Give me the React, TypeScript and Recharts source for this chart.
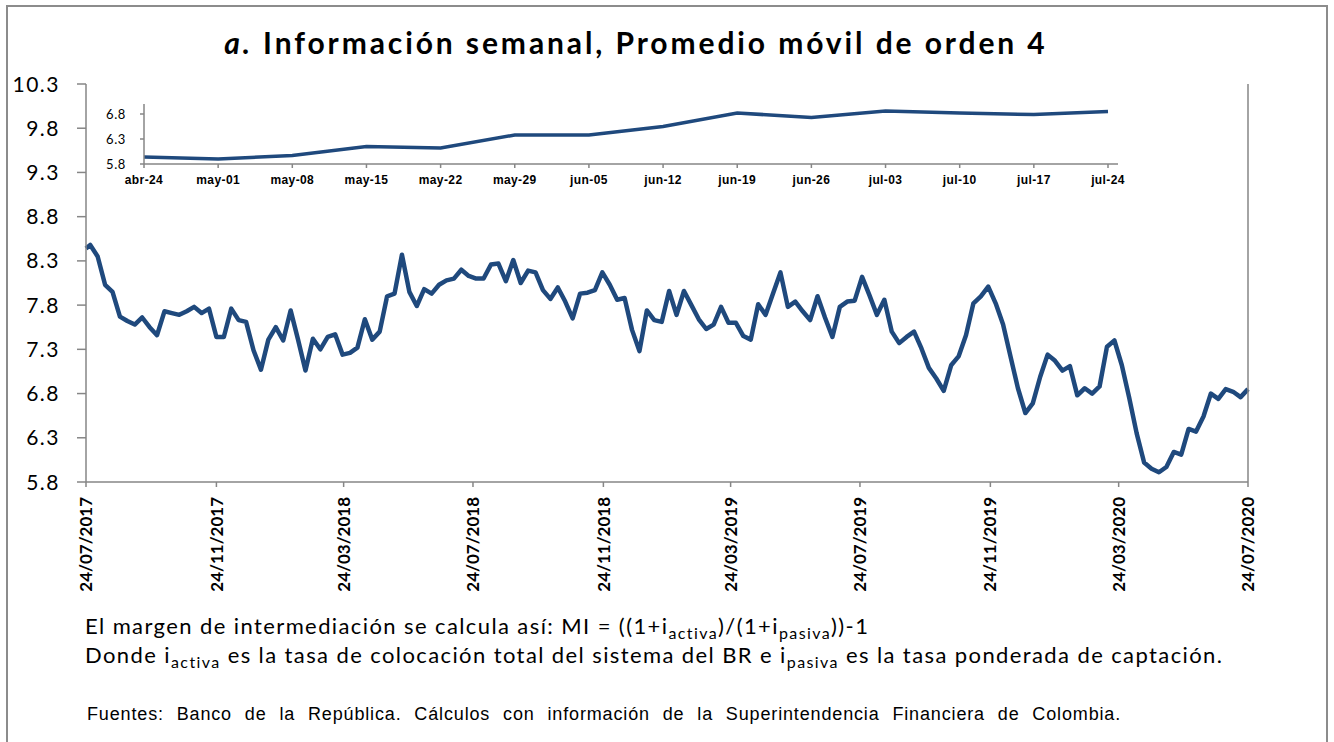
import React from 'react';
import { LineChart, Line, XAxis, YAxis } from 'recharts';

// weekly series, 4-week moving average (first obs 24/07/2017, then Fridays from 28/07/2017)
const MAIN_VALUES = [
  8.44, 8.48, 8.35, 8.03, 7.95, 7.67, 7.62, 7.58, 7.66, 7.55,
  7.46, 7.73, 7.71, 7.69, 7.73, 7.78, 7.71, 7.76, 7.44, 7.44,
  7.76, 7.63, 7.61, 7.29, 7.07, 7.41, 7.55, 7.40, 7.74, 7.41,
  7.06, 7.42, 7.30, 7.44, 7.47, 7.24, 7.26, 7.32, 7.64, 7.41,
  7.50, 7.90, 7.93, 8.37, 7.95, 7.79, 7.98, 7.93, 8.03, 8.08,
  8.10, 8.20, 8.13, 8.10, 8.10, 8.26, 8.27, 8.07, 8.31, 8.05,
  8.19, 8.17, 7.97, 7.87, 8.00, 7.84, 7.65, 7.93, 7.94, 7.97,
  8.17, 8.03, 7.86, 7.88, 7.52, 7.28, 7.74, 7.63, 7.61, 7.96,
  7.69, 7.96, 7.80, 7.64, 7.53, 7.58, 7.78, 7.60, 7.60, 7.45,
  7.41, 7.81, 7.69, 7.93, 8.17, 7.78, 7.84, 7.73, 7.63, 7.90,
  7.66, 7.44, 7.78, 7.84, 7.85, 8.12, 7.91, 7.69, 7.86, 7.50,
  7.37, 7.44, 7.50, 7.31, 7.09, 6.97, 6.83, 7.12, 7.22, 7.46,
  7.82, 7.90, 8.01, 7.82, 7.58, 7.22, 6.86, 6.58, 6.69, 6.99,
  7.24, 7.17, 7.06, 7.11, 6.78, 6.86, 6.80, 6.88, 7.33, 7.40,
  7.12, 6.75, 6.35, 6.02, 5.95, 5.91, 5.97, 6.14, 6.11, 6.40,
  6.37, 6.54, 6.80, 6.74, 6.85, 6.82, 6.76, 6.85,
];
const MAIN_TICKS = [
  '24/07/2017', '24/11/2017', '24/03/2018', '24/07/2018', '24/11/2018',
  '24/03/2019', '24/07/2019', '24/11/2019', '24/03/2020', '24/07/2020',
];
const Y_TICKS = [5.8, 6.3, 6.8, 7.3, 7.8, 8.3, 8.8, 9.3, 9.8, 10.3];

const INSET_WEEKS = [
  'abr-24', 'may-01', 'may-08', 'may-15', 'may-22', 'may-29', 'jun-05',
  'jun-12', 'jun-19', 'jun-26', 'jul-03', 'jul-10', 'jul-17', 'jul-24',
];
const INSET_VALUES = [5.94, 5.90, 5.97, 6.15, 6.12, 6.38, 6.38, 6.55, 6.82, 6.73, 6.86, 6.82, 6.79, 6.85];
const INSET_Y_TICKS = [5.8, 6.3, 6.8];

const BLUE = '#1f497d';
const AXIS = '#868686';

const toDay = (s: string) => {
  const [dd, mm, yy] = s.split('/').map(Number);
  return (Date.UTC(yy, mm - 1, dd) - Date.UTC(2017, 6, 24)) / 86400000;
};
const tickDays = MAIN_TICKS.map(toDay);
const dayLabel: Record<number, string> = {};
MAIN_TICKS.forEach((t, i) => (dayLabel[tickDays[i]] = t));

const mainData = MAIN_VALUES.map((v, i) => ({ d: i === 0 ? 0 : 4 + 7 * (i - 1), v }));
const insetData = INSET_WEEKS.map((w, i) => ({ w, v: INSET_VALUES[i] }));

const DateTick = (props: any) => {
  const { x, y, payload } = props;
  return (
    <text
      transform={`translate(${x},${y + 8}) rotate(-90)`}
      textAnchor="end"
      dy="0.36em"
      fontFamily="Lato"
      fontWeight="bold"
      fontSize={17}
      fill="#000"
    >
      {dayLabel[payload.value]}
    </text>
  );
};

const ValueTick = (props: any) => {
  const { x, y, payload, textAnchor, size, spacing } = props;
  return (
    <text x={x} y={y} dy="0.36em" textAnchor={textAnchor} fontFamily="Lato" fontSize={size}
      fill="#000" style={{ letterSpacing: spacing }}>
      {Number(payload.value).toFixed(1)}
    </text>
  );
};

const WeekTick = (props: any) => {
  const { x, y, payload } = props;
  return (
    <text x={x} y={y} dy="0.75em" textAnchor="middle" fontFamily="Liberation Sans" fontWeight="bold"
      fontSize={12} fill="#000" style={{ letterSpacing: 0.4 }}>
      {payload.value}
    </text>
  );
};

const subStyle = { fontSize: 16 };

export default function App() {
  return (
    <div style={{ position: 'relative', width: 1334, height: 742, overflow: 'hidden', background: '#fff' }}>
      <style>{'body{margin:0}'}</style>
      <div style={{ position: 'absolute', left: 6, top: 5, width: 1318, height: 800, border: '2px solid #8c8c8c' }} />

      <div style={{
        position: 'absolute', left: 0, width: 1272, top: 27, textAlign: 'center',
        fontFamily: 'Lato', fontWeight: 'bold', fontSize: 30, lineHeight: '30px', letterSpacing: 2.9,
      }}>
        <i>a.</i> Información semanal, Promedio móvil de orden 4
      </div>

      <div style={{ position: 'absolute', left: 0, top: 0 }}>
        <LineChart width={1334} height={742} data={mainData}
          margin={{ top: 84, right: 0, bottom: 150, left: 0 }}>
          <XAxis dataKey="d" type="number" domain={[0, 1096]} ticks={tickDays} interval={0}
            height={110} tick={<DateTick />} tickSize={5}
            axisLine={{ stroke: AXIS, strokeWidth: 1.5 }} tickLine={{ stroke: AXIS, strokeWidth: 1.5 }} />
          <XAxis xAxisId="top" dataKey="d" type="number" domain={[0, 1096]} orientation="top" height={0}
            tick={false} tickLine={false} axisLine={{ stroke: '#404040', strokeWidth: 1.5 }} />
          <YAxis domain={[5.8, 10.3]} ticks={Y_TICKS} interval={0} width={86} tickSize={9} tickMargin={17}
            tick={<ValueTick size={21} spacing={1.5} />}
            axisLine={{ stroke: AXIS, strokeWidth: 1.5 }} tickLine={{ stroke: AXIS, strokeWidth: 1.5 }} />
          <YAxis yAxisId="right" orientation="right" domain={[5.8, 10.3]} ticks={Y_TICKS} interval={0}
            width={86} tickSize={9} tickMargin={14}
            tick={<ValueTick size={21} spacing={1.5} />}
            axisLine={{ stroke: AXIS, strokeWidth: 1.5 }} tickLine={{ stroke: AXIS, strokeWidth: 1.5 }} />
          <Line type="linear" dataKey="v" stroke={BLUE} strokeWidth={4.5} dot={false}
            strokeLinejoin="round" isAnimationActive={false} />
        </LineChart>
      </div>

      <div style={{ position: 'absolute', left: 100, top: 90, background: 'transparent' }}>
        <LineChart width={1030} height={110} data={insetData}
          margin={{ top: 14, right: 12, bottom: 6, left: 0 }}>
          <XAxis dataKey="w" height={30} interval={0} padding={{ left: 0, right: 10 }}
            tick={<WeekTick />} tickSize={4} tickMargin={7}
            axisLine={{ stroke: AXIS, strokeWidth: 1.5 }} tickLine={{ stroke: AXIS, strokeWidth: 1.5 }} />
          <XAxis xAxisId="top" dataKey="w" orientation="top" height={0} tick={false} tickLine={false}
            axisLine={{ stroke: '#000', strokeWidth: 1.5 }} />
          <YAxis domain={[5.8, 7.0]} ticks={INSET_Y_TICKS} interval={0} width={44} tickSize={4} tickMargin={14}
            tick={<ValueTick size={13} spacing={0.6} />}
            axisLine={{ stroke: AXIS, strokeWidth: 1.5 }} tickLine={{ stroke: AXIS, strokeWidth: 1.5 }} />
          <YAxis yAxisId="r" orientation="right" domain={[5.8, 7.0]} width={0} tick={false} tickLine={false}
            axisLine={{ stroke: '#000', strokeWidth: 1.5 }} />
          <Line type="linear" dataKey="v" stroke={BLUE} strokeWidth={3.5} dot={false}
            isAnimationActive={false} />
        </LineChart>
      </div>

      <div style={{ position: 'absolute', left: 85, top: 615, fontFamily: 'Lato', fontSize: 22, lineHeight: '22px', letterSpacing: 1.4, whiteSpace: 'nowrap' }}>
        El margen de intermediación se calcula así: MI = ((1+i<sub style={subStyle}>activa</sub>)/(1+i<sub style={subStyle}>pasiva</sub>))-1
      </div>
      <div style={{ position: 'absolute', left: 85, top: 644, fontFamily: 'Lato', fontSize: 22, lineHeight: '22px', letterSpacing: 1.4, whiteSpace: 'nowrap' }}>
        Donde i<sub style={subStyle}>activa</sub> es la tasa de colocación total del sistema del BR e i<sub style={subStyle}>pasiva</sub> es la tasa ponderada de captación.
      </div>
      <div style={{
        position: 'absolute', left: 87, top: 705, fontFamily: 'Liberation Sans', fontSize: 18, lineHeight: '18px',
        letterSpacing: 0.85, wordSpacing: 7, whiteSpace: 'nowrap',
      }}>
        Fuentes: Banco de la República. Cálculos con información de la Superintendencia Financiera de Colombia.
      </div>
    </div>
  );
}
